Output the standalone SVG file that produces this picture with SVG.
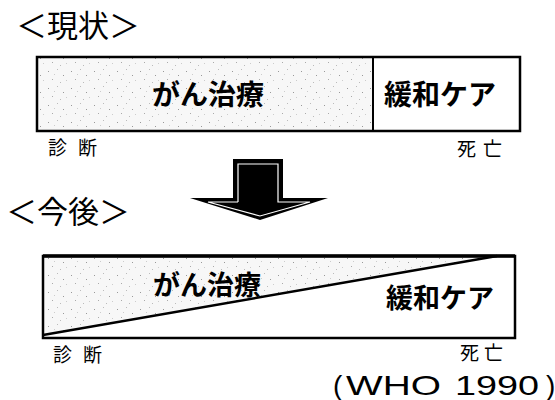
<svg xmlns="http://www.w3.org/2000/svg" width="555" height="400" viewBox="0 0 555 400">
  <style>
    .title { font-family: "Noto Sans CJK JP", "Noto Sans", sans-serif; font-size: 31px; fill: #000; }
    .bold { font-family: "Noto Sans CJK JP", "Noto Sans", sans-serif; font-weight: 700; fill: #000; }
    .small { font-family: "Noto Sans CJK JP", "Noto Sans", sans-serif; font-size: 19px; fill: #000; }
    .src { font-family: "Liberation Sans", "Noto Sans", sans-serif; font-size: 28px; fill: #000; }
    .box { fill: none; stroke: #000; stroke-width: 2.5; }
  </style>
  <defs>
    <pattern id="stipple" width="23" height="17" patternUnits="userSpaceOnUse">
      <rect width="23" height="17" fill="#f7f7f7"/>
      <rect x="2" y="3" width="1" height="1" fill="#999"/>
      <rect x="11" y="1" width="1" height="1" fill="#bbb"/>
      <rect x="17" y="7" width="1" height="1" fill="#999"/>
      <rect x="6" y="11" width="1" height="1" fill="#aaa"/>
      <rect x="14" y="14" width="1" height="1" fill="#bbb"/>
      <rect x="20" y="12" width="1" height="1" fill="#ccc"/>
      <rect x="8" y="6" width="1" height="1" fill="#ccc"/>
    </pattern>
  </defs>

  <g id="title-current">
    <text class="title" x="16" y="37">＜現状＞</text>
  </g>

  <g id="bar-current">
    <rect x="37" y="57" width="336" height="74" fill="url(#stipple)"/>
    <rect x="373" y="57" width="147" height="74" fill="#fff"/>
    <rect class="box" x="37" y="57" width="483" height="74"/>
    <line x1="373" y1="57" x2="373" y2="131" stroke="#000" stroke-width="2"/>
    <text class="bold" x="152" y="105" font-size="28">がん治療</text>
    <text class="bold" x="384" y="105" font-size="28">緩和ケア</text>
  </g>

  <g id="labels-current">
    <text class="small" x="48" y="155">診</text>
    <text class="small" x="78" y="155">断</text>
    <text class="small" x="457" y="156">死</text>
    <text class="small" x="483" y="156">亡</text>
  </g>

  <g id="connectors">
    <polygon points="233,159 283,159 283,198 328,198 260,220 190,198 233,198" fill="#000"/>
    <polyline points="238,202 238,164 278,164 278,202 310,202 260,216 208,202 238,202" fill="none" stroke="#fff" stroke-width="1.2"/>
  </g>

  <g id="title-future">
    <text class="title" x="6" y="223">＜今後＞</text>
  </g>

  <g id="bar-future">
    <rect x="43" y="256" width="472" height="82" fill="#fff"/>
    <polygon points="43,256 495,256 43,335" fill="url(#stipple)"/>
    <line x1="43" y1="335" x2="497" y2="256" stroke="#000" stroke-width="2.5"/>
    <rect class="box" x="43" y="256" width="472" height="82"/>
    <line x1="43" y1="256" x2="515" y2="256" stroke="#000" stroke-width="3.5"/>
    <text class="bold" x="153" y="295" font-size="27">がん治療</text>
    <text class="bold" x="386" y="308" font-size="27">緩和ケア</text>
  </g>

  <g id="labels-future">
    <text class="small" x="53" y="362">診</text>
    <text class="small" x="83" y="362">断</text>
    <text class="small" x="460" y="360">死</text>
    <text class="small" x="484" y="360">亡</text>
  </g>

  <g id="source">
    <text class="src" x="333" y="395">(</text>
    <text class="src" x="346" y="395" textLength="95" lengthAdjust="spacingAndGlyphs">WHO</text>
    <text class="src" x="455" y="395" textLength="84" lengthAdjust="spacingAndGlyphs">1990</text>
    <text class="src" x="546" y="395">)</text>
  </g>
</svg>
